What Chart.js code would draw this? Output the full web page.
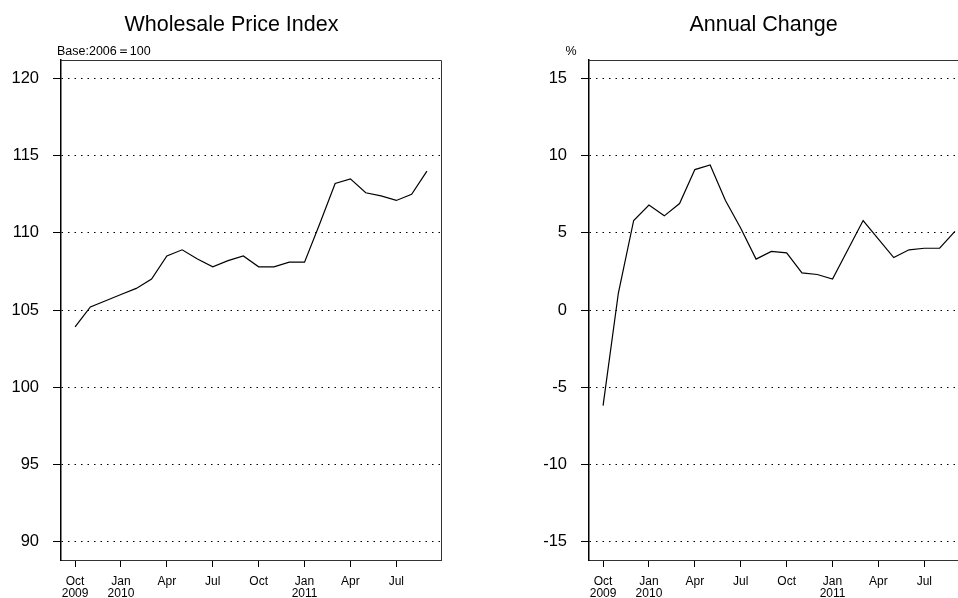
<!DOCTYPE html>
<html>
<head>
<meta charset="utf-8">
<script src="https://cdn.jsdelivr.net/npm/chart.js@4.4.1/dist/chart.umd.min.js"></script>
<style>
  html, body { margin: 0; padding: 0; background: #fff; overflow: hidden; width: 958px; height: 598px; }
  canvas { position: absolute; top: 0; }
  #c1 { left: 0; }
  #c2 { left: 528px; }
</style>
</head>
<body>
<canvas id="c1" width="479" height="598"></canvas>
<canvas id="c2" width="479" height="598"></canvas>
<script>
// ---- data ----
const months = ['2009-10','2009-11','2009-12','2010-01','2010-02','2010-03','2010-04','2010-05',
                '2010-06','2010-07','2010-08','2010-09','2010-10','2010-11','2010-12','2011-01',
                '2011-02','2011-03','2011-04','2011-05','2011-06','2011-07','2011-08','2011-09'];
const wpiValues = [103.9, 105.2, 105.6, 106.0, 106.4, 107.0, 108.5, 108.9, 108.3, 107.8, 108.2, 108.5,
                   107.8, 107.8, 108.1, 108.1, 110.6, 113.2, 113.5, 112.6, 112.4, 112.1, 112.5, 114.0];
const changeValues = [-6.2, 1.1, 5.8, 6.8, 6.1, 6.9, 9.1, 9.4, 7.1, 5.3, 3.3, 3.8,
                      3.7, 2.4, 2.3, 2.0, 3.9, 5.8, 4.6, 3.4, 3.9, 4.0, 4.0, 5.1];
const xTickPositions = [0, 3, 6, 9, 12, 15, 18, 21];
const xTickLabels = [['Oct', '2009'], ['Jan', '2010'], 'Apr', 'Jul', 'Oct', ['Jan', '2011'], 'Apr', 'Jul'];
const wpiTicks = [90, 95, 100, 105, 110, 115, 120];
const changeTicks = [-15, -10, -5, 0, 5, 10, 15];

const FONT = '"Liberation Sans", Arial, Helvetica, sans-serif';

const decor = {
  id: 'decor',
  afterDraw(chart, args, opts) {
    const ctx = chart.ctx, a = chart.chartArea;
    ctx.save();
    // box (top and right sides)
    ctx.strokeStyle = '#333';
    ctx.lineWidth = 1;
    ctx.beginPath();
    ctx.moveTo(a.left, Math.round(a.top) + 0.5);
    ctx.lineTo(Math.round(a.right) + 0.5, Math.round(a.top) + 0.5);
    ctx.lineTo(Math.round(a.right) + 0.5, a.bottom);
    ctx.stroke();
    // title
    ctx.fillStyle = '#000';
    ctx.font = '21.5px ' + FONT;
    ctx.textAlign = 'center';
    ctx.textBaseline = 'alphabetic';
    ctx.fillText(opts.title, opts.titleX, 31);
    // note above the box
    ctx.font = '12.5px ' + FONT;
    ctx.textAlign = opts.noteAlign;
    ctx.fillText(opts.note, opts.noteX, 55);
    ctx.restore();
  }
};

function makeChart(id, values, yTicks, title, titleX, note, noteX, noteAlign) {
  const lo = yTicks[0], hi = yTicks[yTicks.length - 1];
  const ext = (hi - lo) * 0.04;
  return new Chart(document.getElementById(id), {
    type: 'line',
    data: {
      datasets: [{
        data: values.map((v, i) => ({ x: i, y: v })),
        borderColor: '#000',
        borderWidth: 1.2,
        pointRadius: 0,
        tension: 0,
        fill: false
      }]
    },
    options: {
      responsive: false,
      animation: false,
      devicePixelRatio: window.devicePixelRatio || 1,
      layout: { padding: { top: 60, right: 38, left: 0, bottom: 0 } },
      plugins: {
        legend: { display: false },
        tooltip: { enabled: false },
        title: { display: false },
        decor: { title, titleX, note, noteX, noteAlign }
      },
      scales: {
        x: {
          type: 'linear',
          min: -0.92,
          max: 23.92,
          afterBuildTicks: s => { s.ticks = xTickPositions.map(v => ({ value: v })); },
          afterFit: s => { s.height = 38; },
          grid: { drawOnChartArea: false, drawTicks: true, tickLength: 7, tickColor: '#000', tickWidth: 1 },
          border: { display: true, color: '#333', width: 1 },
          ticks: {
            autoSkip: false, maxRotation: 0, minRotation: 0,
            padding: 9,
            color: '#000',
            font: { family: FONT, size: 12, lineHeight: 0.98 },
            callback: v => xTickLabels[xTickPositions.indexOf(v)]
          }
        },
        y: {
          type: 'linear',
          min: lo - ext,
          max: hi + ext,
          afterBuildTicks: s => { s.ticks = yTicks.map(v => ({ value: v })); },
          afterFit: s => { s.width = 61; },
          grid: { drawOnChartArea: true, drawTicks: true, tickLength: 8, color: '#000', lineWidth: 1, tickColor: '#000', tickWidth: 1 },
          border: { display: true, color: '#000', width: 1.5, dash: [1.5, 5] },
          ticks: {
            padding: 14,
            color: '#000',
            font: { family: FONT, size: 16.5 },
            callback: v => String(v)
          }
        }
      }
    },
    plugins: [decor]
  });
}

makeChart('c1', wpiValues, wpiTicks, 'Wholesale Price Index', 231.5, 'Base:2006\uFF1D100', 57, 'left');
makeChart('c2', changeValues, changeTicks, 'Annual Change', 235.5, '%', 43, 'center');
</script>
</body>
</html>
